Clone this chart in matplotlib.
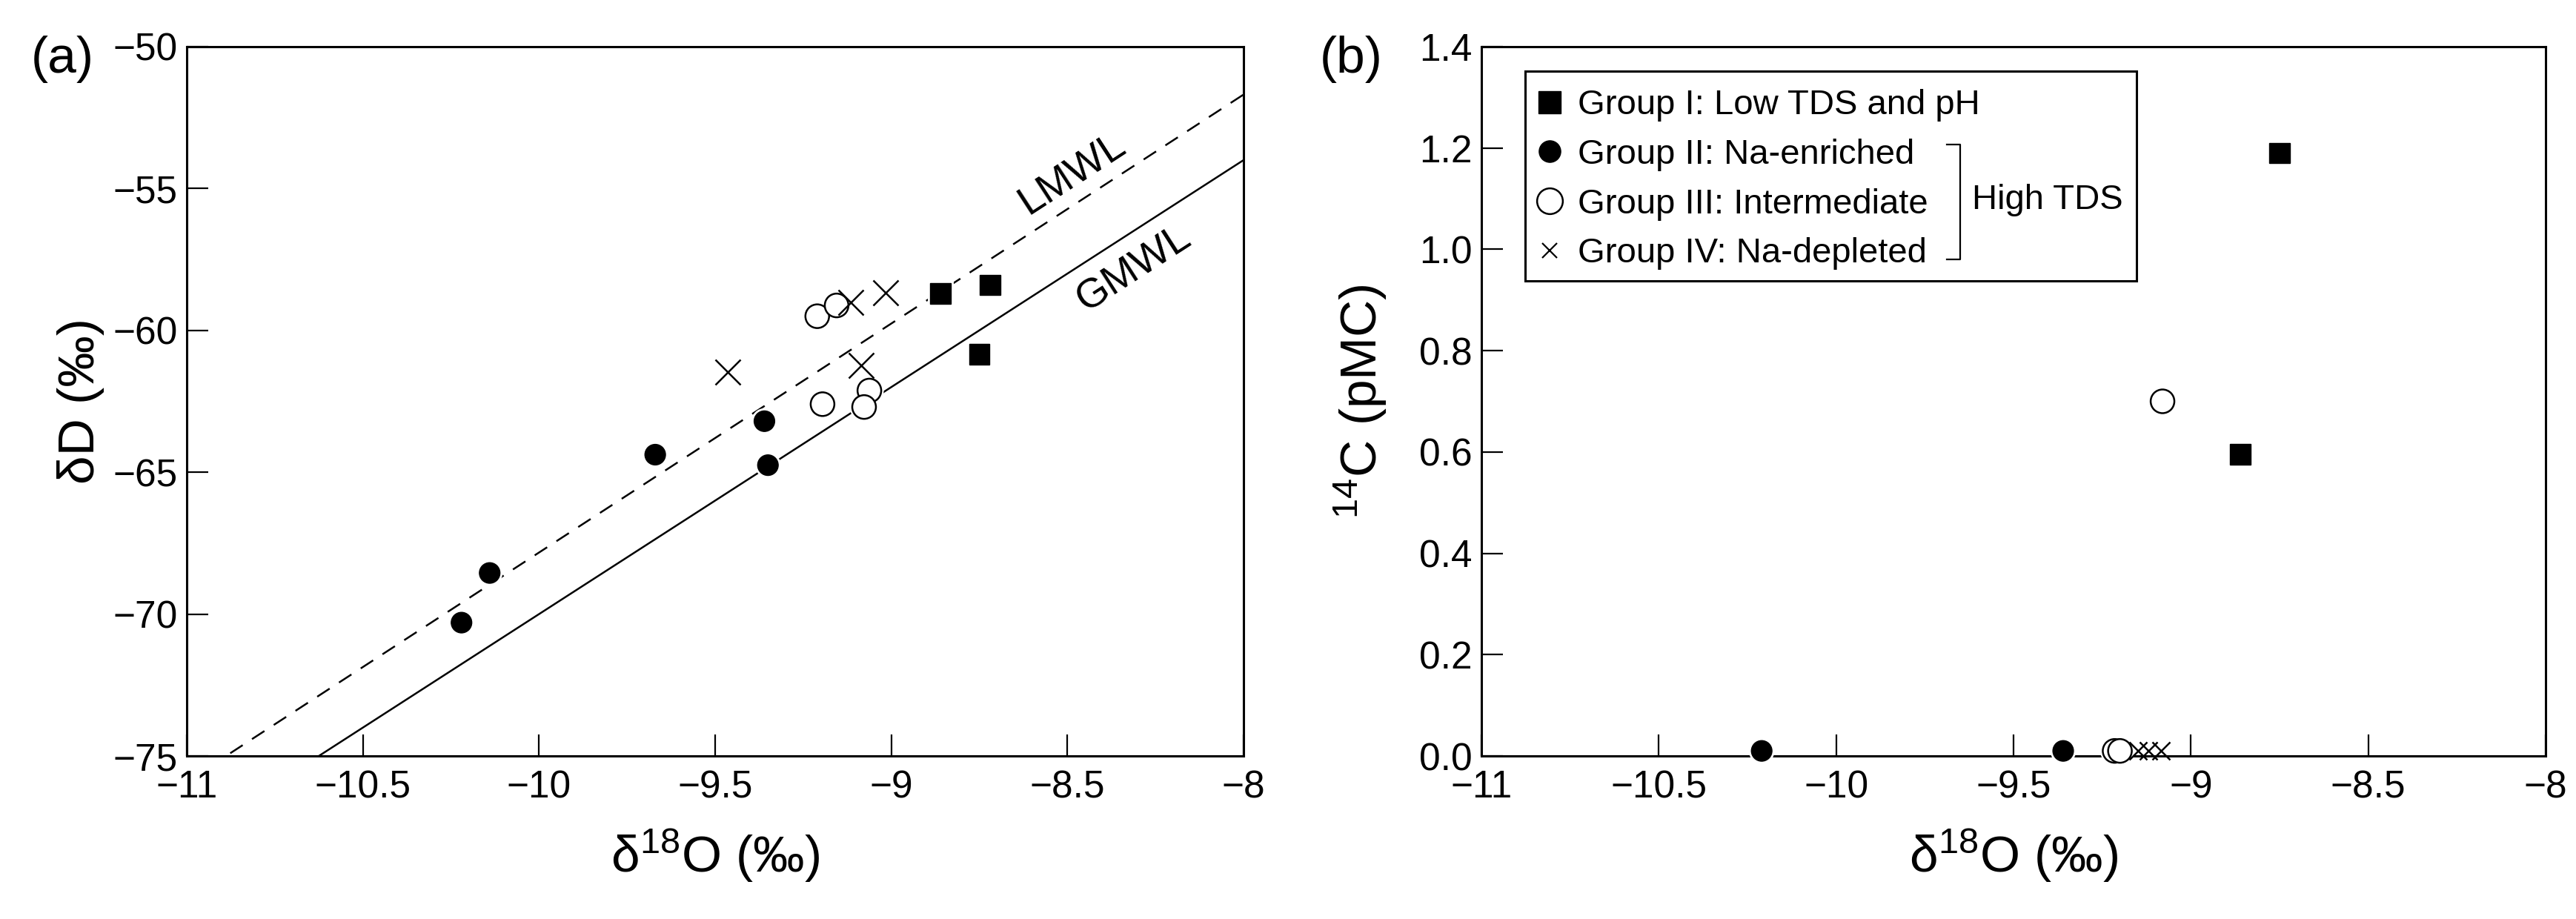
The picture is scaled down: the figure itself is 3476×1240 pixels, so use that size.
import numpy as np
import matplotlib
matplotlib.use("Agg")
import matplotlib.pyplot as plt
import matplotlib.patheffects as pe
from matplotlib.lines import Line2D
from matplotlib.patches import Rectangle
from matplotlib.ticker import FuncFormatter, MultipleLocator

plt.rcParams['font.family'] = ['Liberation Sans', 'DejaVu Sans']
plt.rcParams['mathtext.fontset'] = 'custom'
plt.rcParams['mathtext.rm'] = 'Liberation Sans'
plt.rcParams['mathtext.it'] = 'Liberation Sans:italic'
plt.rcParams['mathtext.bf'] = 'Liberation Sans:bold'

# panel (a): d18O vs dD
a_g1_x = [-8.86, -8.72, -8.75]
a_g1_y = [-58.70, -58.40, -60.85]
a_g2_x = [-10.22, -10.14, -9.67, -9.36, -9.35]
a_g2_y = [-70.30, -68.55, -64.38, -63.20, -64.75]
a_g3_x = [-9.21, -9.155, -9.195, -9.062, -9.077]
a_g3_y = [-59.50, -59.12, -62.60, -62.12, -62.70]
a_g4_x = [-9.465, -9.115, -9.016, -9.085]
a_g4_y = [-61.47, -59.01, -58.67, -61.23]

# meteoric water lines (slope, intercept)
lmwl = (8.07, 12.87)
gmwl = (8.0, 10.0)

# panel (b): d18O vs 14C
b_g1_x = [-8.75, -8.86]
b_g1_y = [1.19, 0.595]
b_g2_x = [-10.21, -9.36]
b_g2_y = [0.01, 0.01]
b_g3_x = [-9.08, -9.215, -9.20]
b_g3_y = [0.70, 0.01, 0.01]
b_g4_x = [-9.15, -9.12, -9.085]
b_g4_y = [0.01, 0.01, 0.01]

group_labels = ["Group I: Low TDS and pH", "Group II: Na-enriched",
                "Group III: Intermediate", "Group IV: Na-depleted"]

TICK_FS = 37
LABEL_FS = 50
LEG_FS = 34


def fmt(v, pos):
    return f"{v:g}".replace("-", "\u2212")


def style_axes(ax):
    for s in ax.spines.values():
        s.set_linewidth(2.2)
    ax.tick_params(direction='in', length=21, width=1.6, labelsize=TICK_FS,
                   top=False, right=False)
    ax.tick_params(axis='x', pad=13)
    ax.tick_params(axis='y', pad=9)
    ax.xaxis.set_major_formatter(FuncFormatter(fmt))


halo = [pe.Stroke(linewidth=5, foreground='white'), pe.Normal()]


def draw_groups(ax, g1, g2, g3, g4, xsize, clip=True):
    kw = dict(ls='none', zorder=3, clip_on=clip)
    ax.plot(*g1, marker='s', ms=20, mfc='k', mec='k', mew=1, path_effects=halo, **kw)
    ax.plot(*g2, marker='o', ms=20, mfc='k', mec='k', mew=1, path_effects=halo, **kw)
    ax.plot(*g3, marker='o', ms=23, mfc='white', mec='k', mew=1.8, path_effects=halo, **kw)
    ax.plot(*g4, marker='x', ms=xsize, mec='k', mew=1.8, **kw)


fig = plt.figure(figsize=(34.76, 12.40), dpi=100)
ax1 = fig.add_axes([0.0725, 0.1774, 0.4102, 0.7718])
ax2 = fig.add_axes([0.5751, 0.1774, 0.4131, 0.7718])

# ---- (a)
xl = np.array([-11.0, -8.0])
ax1.plot(xl, lmwl[0] * xl + lmwl[1], color='k', lw=1.8, ls=(0, (8, 6)), zorder=1)
ax1.plot(xl, gmwl[0] * xl + gmwl[1], color='k', lw=1.8, zorder=1)
draw_groups(ax1, (a_g1_x, a_g1_y), (a_g2_x, a_g2_y), (a_g3_x, a_g3_y),
            (a_g4_x, a_g4_y), 24)
ax1.set_xlim(-11, -8)
ax1.set_ylim(-75, -50)
ax1.xaxis.set_major_locator(MultipleLocator(0.5))
ax1.yaxis.set_major_locator(MultipleLocator(5))
style_axes(ax1)
ax1.yaxis.set_major_formatter(FuncFormatter(fmt))
ax1.text(-8.486, -54.49, "LMWL", fontsize=40, ha='center', va='center',
         rotation=np.degrees(np.arctan(lmwl[0])), transform_rotates_text=True,
         rotation_mode='anchor')
ax1.text(-8.311, -57.84, "GMWL", fontsize=40, ha='center', va='center',
         rotation=np.degrees(np.arctan(gmwl[0])), transform_rotates_text=True,
         rotation_mode='anchor')
ax1.set_xlabel("δ$^{18}$O (‰)", fontsize=LABEL_FS)
ax1.set_ylabel("δD (‰)", fontsize=LABEL_FS)
ax1.xaxis.set_label_coords(0.5, -0.10)
ax1.yaxis.set_label_coords(-0.078, 0.5)

# ---- (b)
draw_groups(ax2, (b_g1_x, b_g1_y), (b_g2_x, b_g2_y), (b_g3_x, b_g3_y),
            (b_g4_x, b_g4_y), 17, clip=False)
ax2.set_xlim(-11, -8)
ax2.set_ylim(0, 1.4)
ax2.xaxis.set_major_locator(MultipleLocator(0.5))
ax2.yaxis.set_major_locator(MultipleLocator(0.2))
style_axes(ax2)
ax2.yaxis.set_major_formatter(FuncFormatter(lambda v, p: f"{v:.1f}"))
ax2.set_xlabel("δ$^{18}$O (‰)", fontsize=LABEL_FS)
ax2.set_ylabel("$^{14}$C (pMC)", fontsize=LABEL_FS)
ax2.xaxis.set_label_coords(0.5, -0.10)
ax2.yaxis.set_label_coords(-0.087, 0.5)

handles = [
    Line2D([], [], ls='none', marker='s', ms=22, mfc='k', mec='k'),
    Line2D([], [], ls='none', marker='o', ms=21, mfc='k', mec='k'),
    Line2D([], [], ls='none', marker='o', ms=25, mfc='white', mec='k', mew=1.8),
    Line2D([], [], ls='none', marker='x', ms=15, mec='k', mew=1.6),
]
ax2.legend(handles, group_labels, loc='upper left', bbox_to_anchor=(0.041, 0.955),
           frameon=False, fontsize=LEG_FS, borderpad=0.3, handlelength=0.78,
           handletextpad=0.42, labelspacing=0.48, borderaxespad=0)
ax2.add_patch(Rectangle((0.041, 0.670), 0.5746, 0.2955, transform=ax2.transAxes,
                        fill=False, lw=2.2, ec='k', zorder=4))
# bracket for the high TDS groups
ax2.plot([0.437, 0.4495, 0.4495, 0.437], [0.862, 0.862, 0.700, 0.700],
         transform=ax2.transAxes, color='k', lw=1.6)
ax2.text(0.461, 0.7837, "High TDS", transform=ax2.transAxes, fontsize=LEG_FS,
         ha='left', va='center')

fig.text(84 / 3476, 1 - 80 / 1240, "(a)", fontsize=LABEL_FS, ha='center', va='center')
fig.text(1823 / 3476, 1 - 80 / 1240, "(b)", fontsize=LABEL_FS, ha='center', va='center')

fig.savefig("out.png", dpi=100)
